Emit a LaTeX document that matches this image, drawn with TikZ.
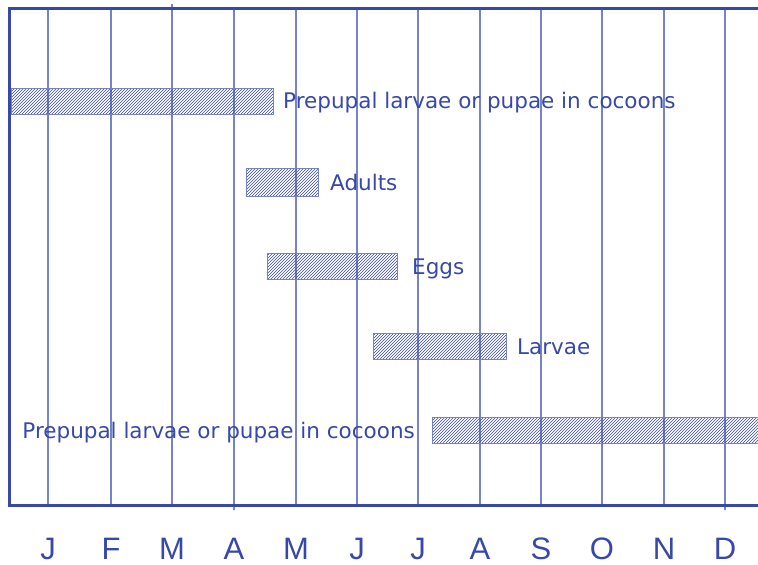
\documentclass[tikz,border=0pt]{standalone}
\usepackage{fontspec}
\usepackage{tikz}
\usetikzlibrary{patterns}
\newfontfamily\labelfont{DejaVu Sans}
\newfontfamily\monthfont{Liberation Sans}
\definecolor{chartblue}{RGB}{55,72,168}
\definecolor{gridblue}{RGB}{118,130,202}
\tikzstyle{frame} = [chartblue,line width=3pt]
\tikzstyle{grid} = [gridblue,line width=1.3pt]
\tikzstyle{bar} = [draw=gridblue,line width=1pt,pattern=north east lines,pattern color=chartblue]
\tikzstyle{stage} = [chartblue,inner sep=0pt,font=\labelfont\fontsize{21.5}{24}\selectfont]
\tikzstyle{month} = [chartblue,inner sep=0pt,anchor=base,font=\monthfont\fontsize{31}{34}\selectfont]

\begin{document}
\begin{tikzpicture}[x=1pt,y=-1pt]
            \useasboundingbox (0,0) rectangle (758,565);

            % month lines and labels
            \foreach \x/\m [count=\i] in {48/J,111/F,172/M,234/A,296/M,357/J,418/J,480/A,541/S,602/O,664/N,725/D} {
                \draw[grid] (\x,8) -- (\x,506);
                \node[month] (m\i) at (\x,559) {\m};
            }
            \draw[grid] (172,4) -- (172,8);
            \draw[grid] (234,506) -- (234,510);
            \draw[grid] (725,506) -- (725,510);

            % frame
            \draw[frame] (760,8) -- (9.5,8) -- (9.5,505.5) -- (760,505.5);

            % bars
            \draw[bar] (11,88) rectangle (273,114);
            \draw[bar] (246,168) rectangle (318,196);
            \draw[bar] (267,253) rectangle (397,279);
            \draw[bar] (373,333) rectangle (506,359);
            \draw[bar] (432,417) rectangle (762,443);

            % stage labels
            \node[stage,anchor=base west] (pre1) at (283,108) {Prepupal larvae or pupae in cocoons};
            \node[stage,anchor=base west] (adults) at (330,190) {Adults};
            \node[stage,anchor=base west] (eggs) at (412,274) {Eggs};
            \node[stage,anchor=base west] (larvae) at (517,354) {Larvae};
            \node[stage,anchor=base east] (pre2) at (415,438) {Prepupal larvae or pupae in cocoons};
        \end{tikzpicture}
\end{document}
